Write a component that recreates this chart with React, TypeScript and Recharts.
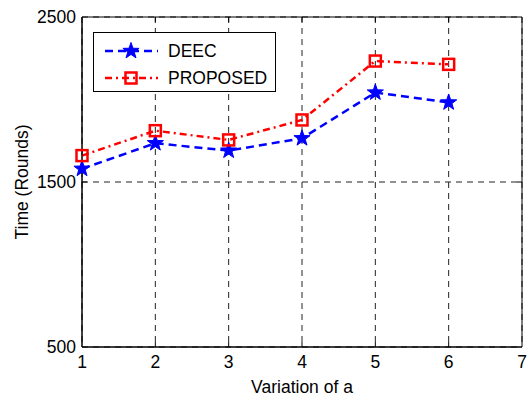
import React from 'react';
import { LineChart, Line, XAxis, YAxis, CartesianGrid, Legend, ReferenceArea, ReferenceLine } from 'recharts';

const variations = [1, 2, 3, 4, 5, 6];
const deecRounds = [1580, 1735, 1690, 1765, 2042, 1982];
const proposedRounds = [1660, 1811, 1755, 1876, 2233, 2213];
const xTicks = [1, 2, 3, 4, 5, 6, 7];
const yTicks = [500, 1500, 2500];

const data = variations.map((v, i) => ({ a: v, deec: deecRounds[i], proposed: proposedRounds[i] }));

const FONT = '"Liberation Sans", Arial, sans-serif';

const starPoints = (cx: number, cy: number, r: number) => {
  const pts: string[] = [];
  for (let i = 0; i < 10; i++) {
    const rad = i % 2 === 0 ? r : r * 0.4;
    const ang = -Math.PI / 2 + (i * Math.PI) / 5;
    pts.push(`${cx + rad * Math.cos(ang)},${cy + rad * Math.sin(ang)}`);
  }
  return pts.join(' ');
};

const StarDot = (props: any) => {
  const { cx, cy } = props;
  if (cx == null || cy == null) return null;
  return <polygon points={starPoints(cx, cy, 8.5)} fill="#0000ff" stroke="#0000ff" strokeWidth={1} />;
};

const SquareDot = (props: any) => {
  const { cx, cy } = props;
  if (cx == null || cy == null) return null;
  return <rect x={cx - 5.5} y={cy - 5.5} width={11} height={11} fill="none" stroke="#ff0000" strokeWidth={2.5} />;
};

const LegendBox = () => (
  <div style={{ width: 181, height: 58, border: '1px solid #000', background: '#fff', fontFamily: FONT, fontSize: 17.5 }}>
    <svg width={181} height={58}>
      <line x1={11} y1={18} x2={64} y2={18} stroke="#0000ff" strokeWidth={2.5} strokeDasharray="8 5" />
      <polygon points={starPoints(37, 18, 8.5)} fill="#0000ff" stroke="#0000ff" />
      <text x={74} y={24} fontSize={17.5} fontFamily={FONT} fill="#000">DEEC</text>
      <line x1={11} y1={45} x2={64} y2={45} stroke="#ff0000" strokeWidth={2.5} strokeDasharray="7 4 2 4" />
      <rect x={31.5} y={39.5} width={11} height={11} fill="none" stroke="#ff0000" strokeWidth={2.5} />
      <text x={74} y={51} fontSize={17.5} fontFamily={FONT} fill="#000">PROPOSED</text>
    </svg>
  </div>
);

export default function App() {
  return (
    <div style={{ position: 'absolute', left: 0, top: 0, background: '#fff' }}>
      <LineChart width={529} height={398} data={data} margin={{ top: 17, right: 7, bottom: 0, left: 0 }}>
        <CartesianGrid stroke="#222" strokeDasharray="6 5" strokeWidth={1} />
        <XAxis
          dataKey="a"
          type="number"
          domain={[1, 7]}
          ticks={xTicks}
          height={51}
          tickLine={false}
          tickSize={6}
          tickMargin={3}
          axisLine={{ stroke: '#000' }}
          tick={{ fill: '#000', fontSize: 17.5, fontFamily: FONT }}
          label={{ value: 'Variation of a', position: 'center', dy: 14, fill: '#000', fontSize: 17.5, fontFamily: FONT }}
        />
        <YAxis
          type="number"
          domain={[500, 2500]}
          ticks={yTicks}
          width={82}
          tickLine={false}
          tickSize={4}
          tickMargin={2}
          axisLine={{ stroke: '#000' }}
          tick={{ fill: '#000', fontSize: 17.5, fontFamily: FONT }}
          label={{ value: 'Time (Rounds)', angle: -90, position: 'center', dx: -19, fill: '#000', fontSize: 17.5, fontFamily: FONT }}
        />
        {xTicks.slice(1, -1).map((t) => (
          <ReferenceLine key={`b${t}`} segment={[{ x: t, y: 500 }, { x: t, y: 530 }]} stroke="#000" strokeWidth={1} />
        ))}
        {xTicks.slice(1, -1).map((t) => (
          <ReferenceLine key={`t${t}`} segment={[{ x: t, y: 2470 }, { x: t, y: 2500 }]} stroke="#000" strokeWidth={1} />
        ))}
        <ReferenceLine segment={[{ x: 1, y: 1500 }, { x: 1.07, y: 1500 }]} stroke="#000" strokeWidth={1} />
        <ReferenceLine segment={[{ x: 6.93, y: 1500 }, { x: 7, y: 1500 }]} stroke="#000" strokeWidth={1} />
        <ReferenceArea x1={1} x2={7} y1={500} y2={2500} fill="none" stroke="#000" strokeWidth={1} />
        <Legend
          layout="horizontal"
          verticalAlign="middle"
          align="center"
          content={() => <LegendBox />}
          wrapperStyle={{ position: 'absolute', left: 93, top: 32, width: 183, height: 60 }}
        />
        <Line
          dataKey="deec"
          name="DEEC"
          stroke="#0000ff"
          strokeWidth={2.5}
          strokeDasharray="8 5"
          dot={<StarDot />}
          isAnimationActive={false}
        />
        <Line
          dataKey="proposed"
          name="PROPOSED"
          stroke="#ff0000"
          strokeWidth={2.5}
          strokeDasharray="7 4 2 4"
          dot={<SquareDot />}
          isAnimationActive={false}
        />
      </LineChart>
    </div>
  );
}
